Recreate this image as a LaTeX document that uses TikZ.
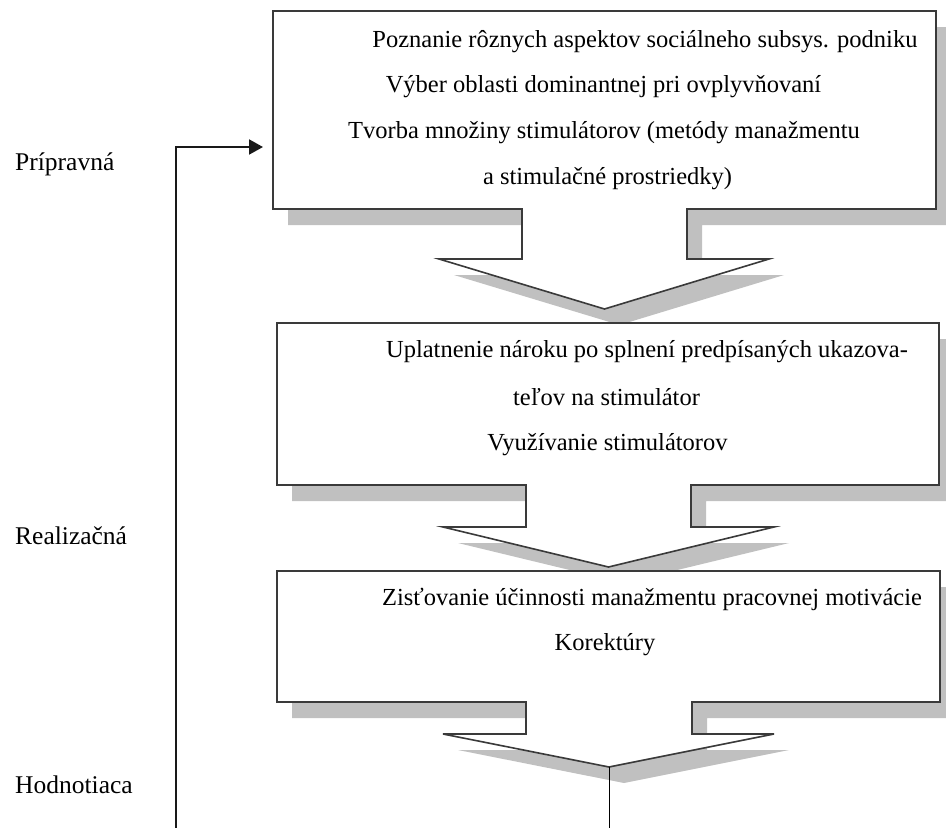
\documentclass[tikz,border=0pt]{standalone}
\usepackage{fontspec}
\setmainfont{Liberation Serif}
\usetikzlibrary{arrows.meta}
\definecolor{shadowgray}{HTML}{C0C0C0}
\definecolor{edgegray}{HTML}{3A3A3A}
\tikzset{
  callout/.style={preaction={fill=shadowgray, draw=none, transform canvas={shift={(15,16)}}},
                  draw=edgegray, line width=1.6pt, fill=white, line join=miter},
  boxtext/.style={anchor=base, inner sep=0pt, font=\fontsize{24.5}{24.5}\selectfont},
  phase/.style={anchor=base west, inner sep=0pt, font=\fontsize{25.5}{25.5}\selectfont},
  feedback/.style={draw=black!90, line width=2pt, -{Triangle[length=14pt,width=15pt]}},
  outline/.style={draw=black, line width=1.2pt},
}
\begin{document}
\begin{tikzpicture}[x=1pt, y=-1pt]
\useasboundingbox[fill=white] (0,0) rectangle (946,828);

% callout 1
\path[callout] (273,11) -- (936,11) -- (936,209) -- (687,209) -- (687,259) -- (769,259)
  -- (604.5,309) -- (439,259) -- (522,259) -- (522,209) -- (273,209) -- cycle;
% callout 2
\path[callout] (277,323) -- (939,323) -- (939,485) -- (691,485) -- (691,527) -- (774,527)
  -- (608.5,567) -- (443,527) -- (526,527) -- (526,485) -- (277,485) -- cycle;
% callout 3
\path[callout] (277,571) -- (940,571) -- (940,702) -- (692,702) -- (692,734) -- (774,734)
  -- (609,767) -- (443,734) -- (526,734) -- (526,702) -- (277,702) -- cycle;

\coordinate (box1in) at (263,147);
\coordinate (fbstart) at (176,828);
\coordinate (tip3) at (609,767);
\coordinate (bottomend) at (609,828);

% texts of callout 1
\node[boxtext] (t11) at (645,47) {Poznanie rôznych aspektov sociálneho subsys. podniku};
\node[boxtext] (t12) at (603.5,92) {Výber oblasti dominantnej pri ovplyvňovaní};
\node[boxtext] (t13) at (604,138) {Tvorba množiny stimulátorov (metódy manažmentu};
\node[boxtext] (t14) at (607.5,184) {a stimulačné prostriedky)};
% texts of callout 2
\node[boxtext] (t21) at (647,357) {Uplatnenie nároku po splnení predpísaných ukazova-};
\node[boxtext] (t22) at (606.5,405) {teľov na stimulátor};
\node[boxtext] (t23) at (607.5,450) {Využívanie stimulátorov};
% texts of callout 3
\node[boxtext] (t31) at (652,605) {Zisťovanie účinnosti manažmentu pracovnej motivácie};
\node[boxtext] (t32) at (605,650) {Korektúry};

% phase labels
\node[phase] (p1) at (15,170) {Prípravná};
\node[phase] (p2) at (15,544) {Realizačná};
\node[phase] (p3) at (15,793) {Hodnotiaca};

% connectors
\draw[feedback] (fbstart) |- (box1in);
\draw[outline, line width=1pt] (tip3) -- (bottomend);
\end{tikzpicture}
\end{document}
